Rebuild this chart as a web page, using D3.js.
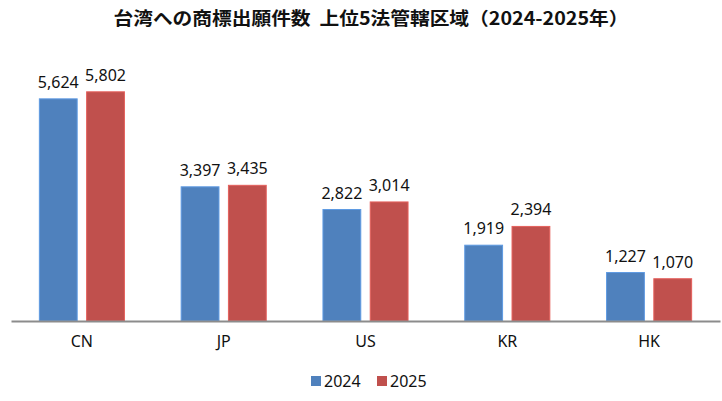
<!DOCTYPE html>
<html>
<head>
<meta charset="utf-8">
<script src="https://cdn.jsdelivr.net/npm/d3@7"></script>
<style>
  html, body { margin: 0; padding: 0; background: #fff; }
  svg { display: block; }
</style>
</head>
<body>
<script>
(function() {

  var categories = ["CN", "JP", "US", "KR", "HK"],
      years      = ["2024", "2025"],
      values2024 = [5624, 3397, 2822, 1919, 1227],
      values2025 = [5802, 3435, 3014, 2394, 1070],
      colors     = ["#4F81BD", "#C0504D"],
      title      = "台湾への商標出願件数\u00a0\u00a0上位5法管轄区域（2024-2025年）",
      width  = 722, height = 401,
      left = 11, right = 720, base = 321,
      fmt = d3.format(","),
      svg;

  var series = [values2024, values2025];

  var x0 = d3.scaleBand()
      .domain(categories)
      .range([left, right])
      .paddingInner(0.4)
      .paddingOuter(0.2);

  var x1 = d3.scaleBand()
      .domain(years)
      .range([0, x0.bandwidth()])
      .paddingInner(0.2)
      .paddingOuter(0);

  var y = d3.scaleLinear()
      .domain([0, 7000])
      .range([base, 44.5]);

  svg = d3.select("body")
          .append("svg")
            .attr("width", width)
            .attr("height", height);

  // title
  svg.append("text")
    .attr("x", 371)
    .attr("y", 25)
    .attr("text-anchor", "middle")
    .attr("font-family", "'Noto Sans CJK JP', sans-serif")
    .attr("font-weight", "bold")
    .attr("font-size", 18)
    .attr("textLength", 515)
    .attr("lengthAdjust", "spacingAndGlyphs")
    .attr("fill", "#111")
    .text(title);

  // bars + labels
  var groups = svg.selectAll("g.cat")
    .data(categories)
    .enter()
    .append("g")
      .attr("class", "cat")
      .attr("transform", function(d) { return "translate(" + x0(d) + ",0)"; });

  var cells = groups.selectAll("g.bar")
    .data(function(d, i) {
      return years.map(function(yr, j) { return { year: yr, value: series[j][i], k: j }; });
    })
    .enter()
    .append("g")
      .attr("class", "bar");

  cells.append("rect")
    .attr("x", function(d) { return x1(d.year); })
    .attr("y", function(d) { return y(d.value); })
    .attr("width", x1.bandwidth())
    .attr("height", function(d) { return base - y(d.value); })
    .attr("fill", function(d) { return colors[d.k]; })
    .attr("stroke", function(d) { return d3.color(colors[d.k]).brighter(0.5); })
    .attr("stroke-width", 1);

  cells.append("text")
    .attr("x", function(d) { return x1(d.year) + x1.bandwidth() / 2; })
    .attr("y", function(d) { return y(d.value) - 11; })
    .attr("text-anchor", "middle")
    .attr("font-family", "'Noto Sans', sans-serif")
    .attr("font-size", 16)
    .attr("fill", "#111")
    .text(function(d) { return fmt(d.value); });

  // category axis
  var axis = svg.append("g")
    .attr("transform", "translate(0," + base + ")")
    .call(d3.axisBottom(x0).tickSize(0).tickPadding(15));

  axis.select(".domain")
    .attr("stroke", "#8c8c8c")
    .attr("stroke-width", 2);

  axis.selectAll(".tick text")
    .attr("font-family", "'Noto Sans', sans-serif")
    .attr("font-size", 16)
    .attr("fill", "#111");

  // legend
  var legendX = d3.scalePoint().domain(years).range([311, 377]);

  var legend = svg.selectAll("g.legend")
    .data(years)
    .enter()
    .append("g")
      .attr("class", "legend")
      .attr("transform", function(d) { return "translate(" + legendX(d) + ",376)"; });

  legend.append("rect")
    .attr("width", 10)
    .attr("height", 10)
    .attr("fill", function(d, i) { return colors[i]; });

  legend.append("text")
    .attr("x", 13)
    .attr("y", 10.5)
    .attr("font-family", "'Noto Sans', sans-serif")
    .attr("font-size", 16)
    .attr("fill", "#111")
    .text(function(d) { return d; });

}());
</script>
</body>
</html>
